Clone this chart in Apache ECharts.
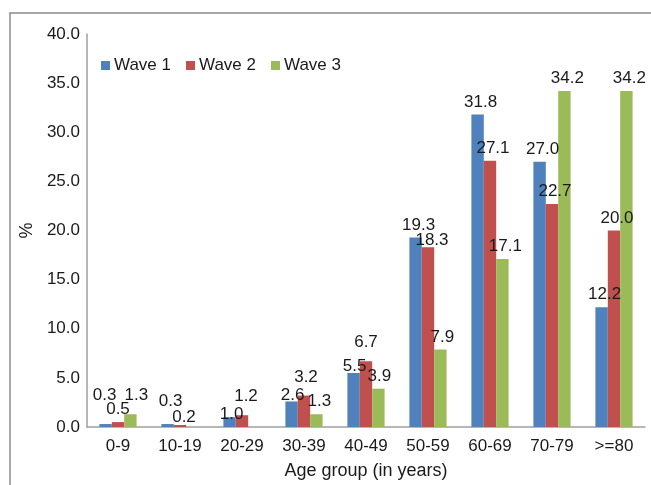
<!DOCTYPE html>
<html>
<head>
<meta charset="utf-8">
<script src="https://cdn.jsdelivr.net/npm/echarts@6/dist/echarts.min.js"></script>
<style>html,body{margin:0;padding:0;background:#fff;}#c{width:651px;height:485px;}</style>
</head>
<body>
<div id="c"></div>
<script>
const categories = ['0-9','10-19','20-29','30-39','40-49','50-59','60-69','70-79','>=80'];
const wave1 = [0.3, 0.3, 1.0, 2.6, 5.5, 19.3, 31.8, 27.0, 12.2];
const wave2 = [0.5, 0.2, 1.2, 3.2, 6.7, 18.3, 27.1, 22.7, 20.0];
const wave3 = [1.3, null, null, 1.3, 3.9, 7.9, 17.1, 34.2, 34.2];
const seriesNames = ['Wave 1', 'Wave 2', 'Wave 3'];
const yTicks = [0, 5, 10, 15, 20, 25, 30, 35, 40];

// label nudges (style only): [seriesIndex][categoryIndex] -> [dx, dy]
const defaultNudge = [3, 0];
const labelNudge = {
  0: { 0: [-1, -16], 1: [3, -10], 2: [2, 10], 3: [1, 6], 4: [1, 6] },
  1: { 0: [0, 0], 1: [4, 5], 2: [4, -6], 3: [2, -6], 4: [0, -6], 5: [4, 6] },
  2: { 0: [6, -6], 3: [3, 0], 4: [1, 0], 5: [2, 0] }
};

const FONT = 'Liberation Sans, Arial, sans-serif';
const colors = ['#4F81BD', '#C0504D', '#9BBB59'];
const chart = echarts.init(document.getElementById('c'));
const mk = (name, values, i) => ({
  name, type: 'bar',
  data: values.map((v, j) => {
    const n = (labelNudge[i] && labelNudge[i][j]) || defaultNudge;
    return { value: v, label: { offset: n } };
  }),
  barGap: '0%', barCategoryGap: '40%',
  itemStyle: { color: colors[i] },
  label: {
    show: true, position: 'top', distance: 4,
    fontFamily: FONT, fontSize: 17, color: '#1a1a1a',
    formatter: p => p.value == null ? '' : Number(p.value).toFixed(1)
  }
});
chart.setOption({
  animation: false,
  textStyle: { fontFamily: FONT },
  graphic: [{
    type: 'polyline',
    shape: { points: [[10, 500], [10, 13], [660, 13]] },
    style: { stroke: '#8a8a8a', lineWidth: 1.5, fill: null },
    silent: true
  }],
  legend: {
    data: seriesNames, left: 96, top: 52,
    itemWidth: 9, itemHeight: 9, itemGap: 15,
    icon: 'rect',
    textStyle: { fontFamily: FONT, fontSize: 17, color: '#1a1a1a', padding: [0, 0, 0, -1] }
  },
  grid: { left: 87, right: 6, top: 34, bottom: 54, containLabel: false },
  xAxis: {
    type: 'category', data: categories,
    name: 'Age group (in years)', nameLocation: 'middle', nameGap: 35,
    nameTextStyle: { fontFamily: FONT, fontSize: 18, color: '#1a1a1a' },
    axisLine: { lineStyle: { color: '#a0a0a0', width: 1.5 } },
    axisTick: { show: false },
    axisLabel: { fontFamily: FONT, fontSize: 17, color: '#1a1a1a', margin: 11, interval: 0 }
  },
  yAxis: {
    type: 'value', min: yTicks[0], max: yTicks[yTicks.length - 1], interval: 5,
    name: '%', nameLocation: 'middle', nameGap: 50, nameRotate: 90,
    nameTextStyle: { fontFamily: FONT, fontSize: 18, color: '#1a1a1a' },
    axisLine: { show: true, lineStyle: { color: '#a0a0a0', width: 1.5 } },
    axisTick: { show: false },
    splitLine: { show: false },
    axisLabel: { fontFamily: FONT, fontSize: 17, color: '#1a1a1a', margin: 7,
      formatter: v => v.toFixed(1) }
  },
  series: [mk(seriesNames[0], wave1, 0), mk(seriesNames[1], wave2, 1), mk(seriesNames[2], wave3, 2)]
});
</script>
</body>
</html>
